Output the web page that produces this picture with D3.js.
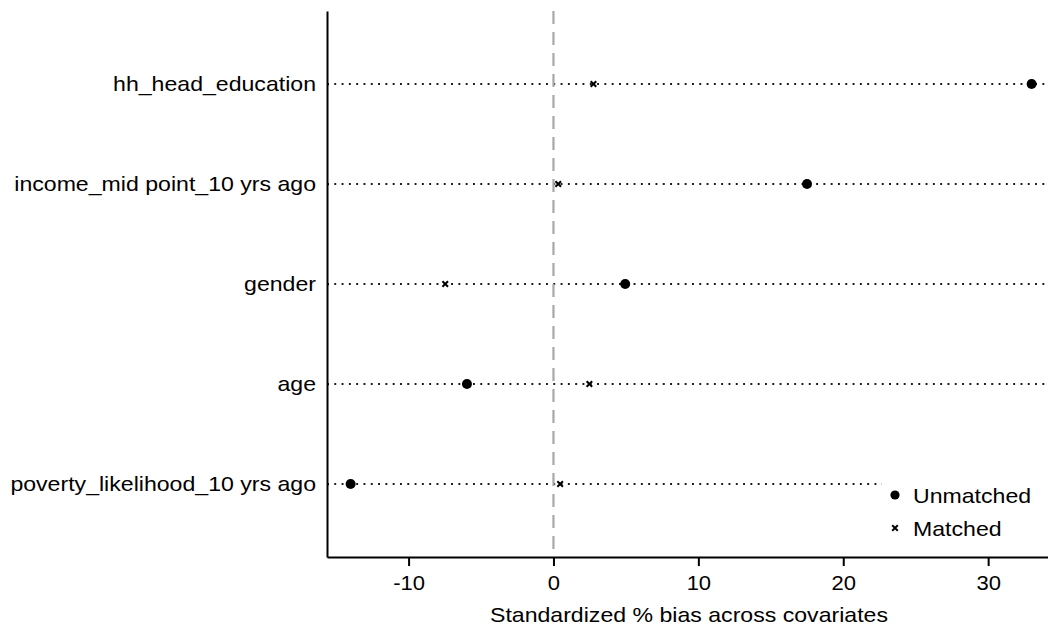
<!DOCTYPE html>
<html>
<head>
<meta charset="utf-8">
<script src="https://cdn.jsdelivr.net/npm/d3@7"></script>
<style>
  html, body { margin: 0; padding: 0; background: #fff; }
  svg { display: block; }
  text { font-family: "Liberation Sans", Arial, Helvetica, sans-serif; fill: #000; }
</style>
</head>
<body>
<svg id="chart" width="1048" height="631"></svg>
<script>
const categories = ["hh_head_education", "income_mid point_10 yrs ago", "gender", "age", "poverty_likelihood_10 yrs ago"];
const unmatched = [33.0, 17.5, 4.95, -5.97, -14.0];
const matched = [2.76, 0.33, -7.47, 2.48, 0.46];
const xTicks = [-10, 0, 10, 20, 30];
const seriesNames = ["Unmatched", "Matched"];
const xTitle = "Standardized % bias across covariates";

(function () {
const svg = d3.select("#chart");
const pLeft = 327, pRight = 1049, pTop = 11, pBottom = 557;
const stretch = 1.1;

const x = d3.scaleLinear().domain([-15.63, 34.2]).range([pLeft, pRight]);
const y = d3.scalePoint().domain(categories).range([pTop, pBottom]).padding(0.73);

function stretchText(sel) {
  sel.each(function () {
    const len = this.getComputedTextLength();
    d3.select(this).attr("textLength", len * stretch).attr("lengthAdjust", "spacingAndGlyphs");
  });
}

// dotted row lines
svg.append("g").selectAll("line").data(categories).join("line")
  .attr("x1", pLeft).attr("x2", pRight)
  .attr("y1", d => y(d)).attr("y2", d => y(d))
  .attr("stroke", "#1a1a1a").attr("stroke-width", 1.9)
  .attr("stroke-dasharray", "1.9,5.4");

// zero dashed line
svg.append("line")
  .attr("x1", x(0)).attr("x2", x(0))
  .attr("y1", pTop).attr("y2", pBottom)
  .attr("stroke", "#a8a8a8").attr("stroke-width", 2.2)
  .attr("stroke-dasharray", "13,8");

// matched markers (x)
const cross = d3.symbol().type(d3.symbolX).size(22);
svg.append("g").selectAll("path").data(categories).join("path")
  .attr("d", cross)
  .attr("transform", (d, i) => `translate(${x(matched[i])},${y(d)})`)
  .attr("fill", "none").attr("stroke", "#000").attr("stroke-width", 2);

// unmatched markers
svg.append("g").selectAll("circle").data(categories).join("circle")
  .attr("cx", (d, i) => x(unmatched[i])).attr("cy", d => y(d))
  .attr("r", 5).attr("fill", "#000");

// x axis
const xAxis = svg.append("g").attr("transform", `translate(0,${pBottom})`)
  .call(d3.axisBottom(x).tickValues(xTicks).tickFormat(d => String(d)).tickSize(9).tickPadding(10).tickSizeOuter(0));
xAxis.select(".domain").attr("stroke", "#000").attr("stroke-width", 2);
xAxis.selectAll(".tick line").attr("stroke", "#000").attr("stroke-width", 2);
xAxis.selectAll(".tick text").attr("font-size", 20).attr("font-family", "Liberation Sans, Arial, sans-serif").attr("fill", "#000").call(stretchText);

// y axis
const yAxis = svg.append("g").attr("transform", `translate(${pLeft},0)`)
  .call(d3.axisLeft(y).tickSize(-2).tickPadding(11).tickSizeOuter(0));
yAxis.select(".domain").attr("stroke", "#000").attr("stroke-width", 2);
yAxis.selectAll(".tick line").attr("stroke", "#000").attr("stroke-width", 1.5);
yAxis.selectAll(".tick text").attr("font-size", 21).attr("font-family", "Liberation Sans, Arial, sans-serif").attr("fill", "#000").call(stretchText);

// x title
svg.append("text")
  .attr("x", (pLeft + pRight) / 2 + 1).attr("y", 622)
  .attr("text-anchor", "middle").attr("font-size", 21)
  .text(xTitle).call(stretchText);

// legend
const lg = svg.append("g");
lg.append("rect").attr("x", 882).attr("y", 470).attr("width", 163).attr("height", 80).attr("fill", "#fff");
lg.append("circle").attr("cx", 895).attr("cy", 495).attr("r", 4.6).attr("fill", "#000");
lg.append("path").attr("d", cross).attr("transform", "translate(895,528)")
  .attr("fill", "none").attr("stroke", "#000").attr("stroke-width", 2);
lg.selectAll("text.leg").data(seriesNames).join("text").attr("class", "leg")
  .attr("x", 913).attr("y", (d, i) => 503 + i * 33)
  .attr("font-size", 21).text(d => d).call(stretchText);
})();
</script>
</body>
</html>
